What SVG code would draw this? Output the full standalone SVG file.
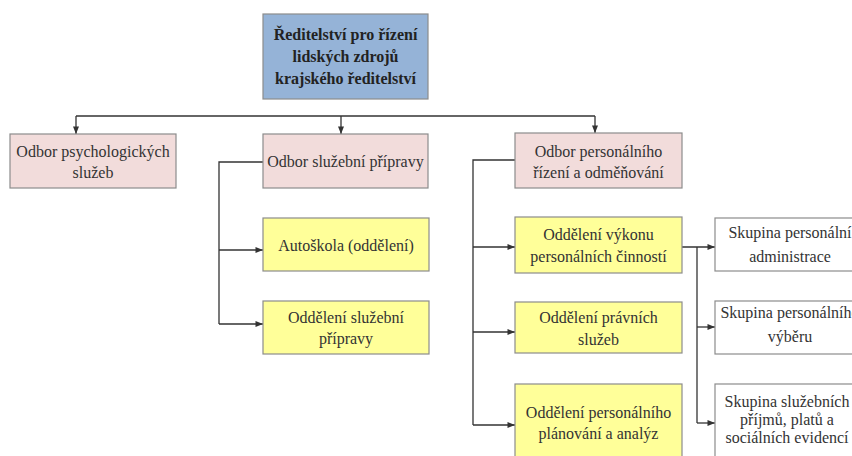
<svg xmlns="http://www.w3.org/2000/svg" width="852" height="456" viewBox="0 0 852 456">
<defs>
<marker id="ah" viewBox="0 0 10 8" refX="10" refY="4" markerWidth="8" markerHeight="6" markerUnits="userSpaceOnUse" orient="auto">
<path d="M0,0 L10,4 L0,8 Z" fill="#333"/>
</marker>
<style>
.box{stroke:#8c8c8c;stroke-width:1.2}
.blue{fill:#95b3d7}
.pink{fill:#f2dcdb}
.yel{fill:#ffff99}
.wht{fill:#ffffff}
text{font-family:"Liberation Serif","Times New Roman",serif;font-size:16px;fill:#333;text-anchor:middle}
.b{font-weight:bold;font-size:16px;fill:#222}
.c{fill:none;stroke:#333;stroke-width:1.3}
</style>
</defs>
<rect width="852" height="456" fill="#fff"/>
<g id="connectors">
<path class="c" d="M76,116 H595"/>
<path class="c" d="M76,116 V134" marker-end="url(#ah)"/>
<path class="c" d="M341,116 V134" marker-end="url(#ah)"/>
<path class="c" d="M595,116 V133" marker-end="url(#ah)"/>
<path class="c" d="M263,162 H219 V324"/>
<path class="c" d="M219,250 H263" marker-end="url(#ah)"/>
<path class="c" d="M219,324 H263" marker-end="url(#ah)"/>
<path class="c" d="M515,160 H473 V425"/>
<path class="c" d="M473,247 H515" marker-end="url(#ah)"/>
<path class="c" d="M473,332 H515" marker-end="url(#ah)"/>
<path class="c" d="M473,425 H515" marker-end="url(#ah)"/>
<path class="c" d="M682,247 H715" marker-end="url(#ah)"/>
<path class="c" d="M697,247 V423"/>
<path class="c" d="M697,327 H715" marker-end="url(#ah)"/>
<path class="c" d="M697,423 H715" marker-end="url(#ah)"/>
</g>
<g id="n-root"><rect class="box blue" x="263" y="14" width="165" height="85"/>
<text class="b" x="345.5" y="40">Ředitelství pro řízení</text>
<text class="b" x="345.5" y="62">lidských zdrojů</text>
<text class="b" x="345.5" y="84">krajského ředitelství</text></g>
<g id="n-psych"><rect class="box pink" x="10" y="134" width="166" height="54"/>
<text x="93" y="157">Odbor psychologických</text>
<text x="93" y="178">služeb</text></g>
<g id="n-sluz"><rect class="box pink" x="263" y="134" width="165" height="54"/>
<text x="345.5" y="167">Odbor služební přípravy</text></g>
<g id="n-pers"><rect class="box pink" x="515" y="133" width="167" height="55"/>
<text x="598.5" y="157">Odbor personálního</text>
<text x="598.5" y="178">řízení a odměňování</text></g>
<g id="n-auto"><rect class="box yel" x="263" y="218" width="166" height="53"/>
<text x="346" y="251">Autoškola (oddělení)</text></g>
<g id="n-osp"><rect class="box yel" x="263" y="301" width="166" height="53"/>
<text x="346" y="323">Oddělení služební</text>
<text x="346" y="344">přípravy</text></g>
<g id="n-ovpc"><rect class="box yel" x="515" y="217" width="167" height="56"/>
<text x="598.5" y="240">Oddělení výkonu</text>
<text x="598.5" y="262">personálních činností</text></g>
<g id="n-ops"><rect class="box yel" x="515" y="302" width="167" height="51"/>
<text x="598.5" y="323">Oddělení právních</text>
<text x="598.5" y="345">služeb</text></g>
<g id="n-opa"><rect class="box yel" x="515" y="384" width="167" height="90"/>
<text x="598.5" y="418">Oddělení personálního</text>
<text x="598.5" y="439">plánování a analýz</text></g>
<g id="n-spa"><rect class="box wht" x="715" y="218" width="150" height="53"/>
<text x="790" y="238">Skupina personální</text>
<text x="790" y="262">administrace</text></g>
<g id="n-spv"><rect class="box wht" x="715" y="301" width="150" height="53"/>
<text x="790" y="318">Skupina personálního</text>
<text x="790" y="342">výběru</text></g>
<g id="n-ssp"><rect class="box wht" x="715" y="384" width="150" height="90"/>
<text x="787" y="407">Skupina služebních</text>
<text x="787" y="425">příjmů, platů a</text>
<text x="787" y="443">sociálních evidencí</text></g>
</svg>
